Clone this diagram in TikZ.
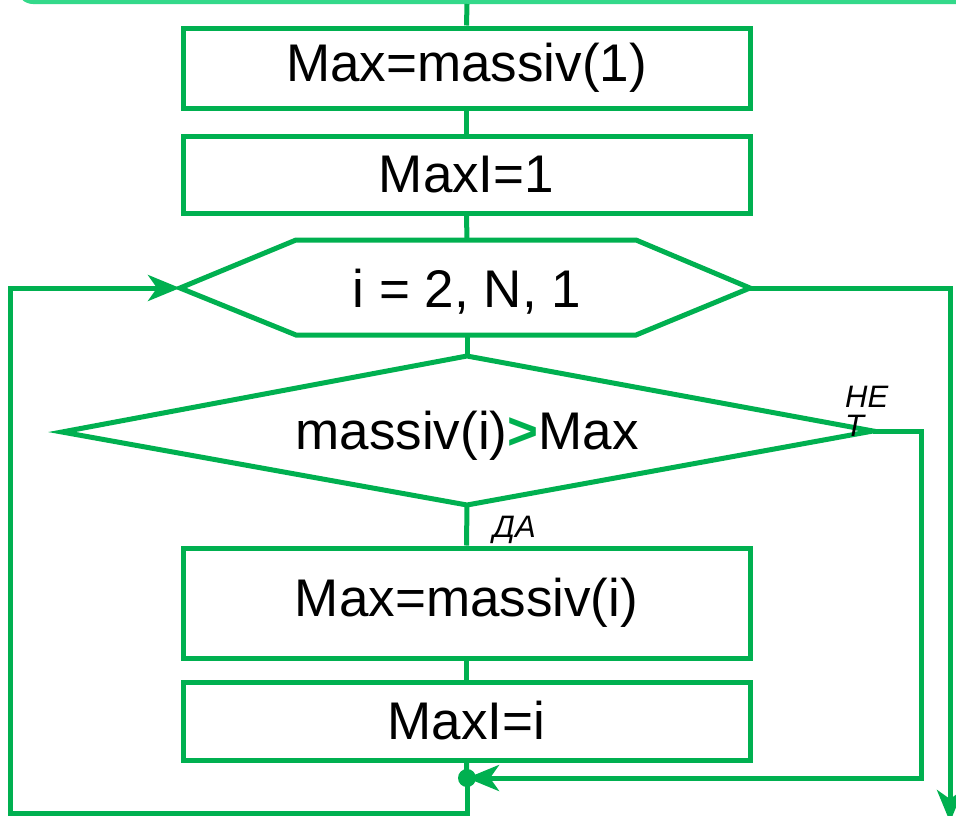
\documentclass[tikz,border=0pt]{standalone}
\usepackage{fontspec}
\setmainfont{Liberation Sans}
\usetikzlibrary{arrows.meta}
\definecolor{flow}{RGB}{0,176,80}
\definecolor{bar}{RGB}{51,217,138}
\begin{document}
\begin{tikzpicture}[x=1pt,y=-1pt,
  line/.style={draw=flow,line width=5pt},
  big/.style={font=\fontsize{53}{60}\selectfont},
  box/.style={line,big,rectangle,minimum width=567pt,inner sep=0pt},
  lbl/.style={font=\fontsize{31}{32}\selectfont\itshape,inner sep=0pt},
  tip/.style={-{Stealth[length=32pt,width=26pt,inset=9pt]}}]
\useasboundingbox (0,0) rectangle (956,815);
% header bar
\fill[bar,rounded corners=16pt] (17,-40) rectangle (990,4);
\coordinate (barB) at (467,4);
% process boxes
\node[box,minimum height=80pt] (b1) at (466.5,68) {Max=massiv(1)};
\node[box,minimum height=77pt] (b2) at (466.5,174.5) {MaxI=1};
\node[box,minimum height=110pt] (b3) at (466.5,603) {Max=massiv(i)};
\node[box,minimum height=78pt] (b4) at (466.5,721) {MaxI=i};
% loop hexagon
\coordinate (hL) at (180,288);
\coordinate (hR) at (750,288);
\coordinate (hT) at (467,240);
\coordinate (hB) at (467,335);
\draw[line,line join=miter] (hL) -- (296,240) -- (636,240) -- (hR) -- (636,335) -- (296,335) -- cycle;
\node[big] (ht) at (467,292) {i = 2, N, 1};
% condition diamond
\coordinate (dT) at (467,356);
\coordinate (dL) at (62,432);
\coordinate (dR) at (873,431);
\coordinate (dB) at (467,505);
\draw[line,line join=miter] (dT) -- (dR) -- (dB) -- (dL) -- cycle;
\node[big] (dt) at (467,436)
  {massiv(i)\textcolor{flow}{\textbf{>}}Max};
% branch labels
\node[lbl,anchor=north west,align=left] (no) at (845,386) {НЕ\\[-3pt]Т};
\node[lbl,anchor=north west] (yes) at (493,516) {ДА};
% junction
\coordinate (jn) at (467,778);
% connectors
\draw[line] (barB) -- (b1.north);
\draw[line] (b1.south) -- (b2.north);
\draw[line] (b2.south) -- (hT);
\draw[line] (hB) -- (dT);
\draw[line] (dB) -- (b3.north);
\draw[line] (b3.south) -- (b4.north);
\draw[line] (b4.south) -- (jn);
\draw[line,tip] (jn) -- (467,813) -- (10,813) -- (10,288) -- (hL);
\draw[line,tip] (dR) -- (921,431) -- (921,778) -- (jn);
\draw[line,tip] (hR) -- (950,288) -- (950,822);
\fill[flow] (jn) circle (9pt);
\end{tikzpicture}
\end{document}
